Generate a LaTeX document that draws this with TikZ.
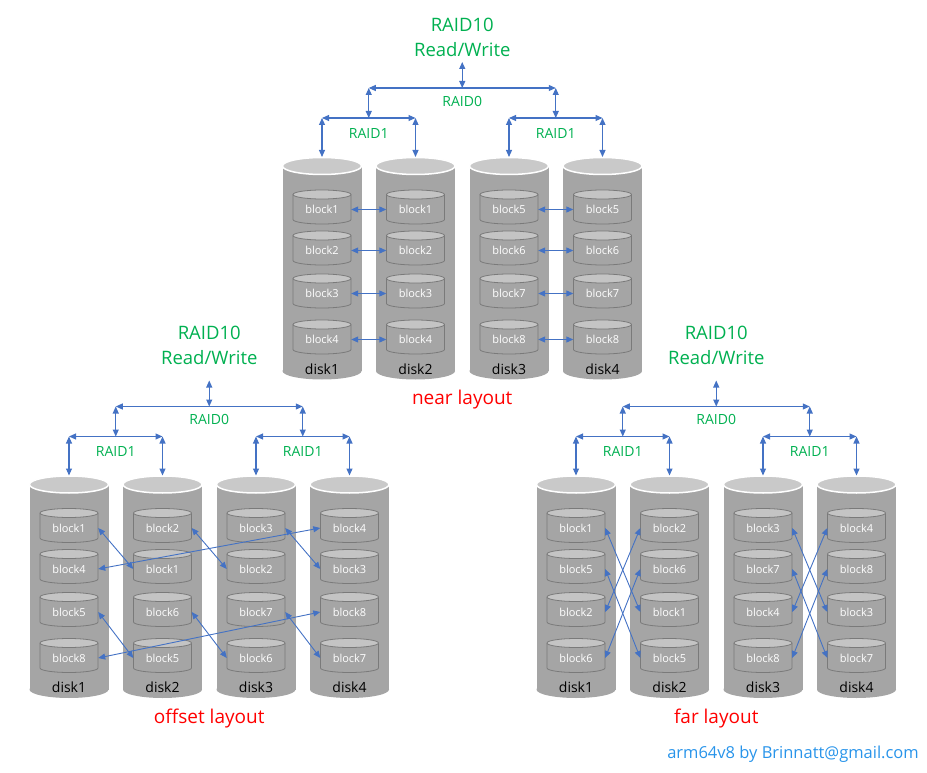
\documentclass[tikz,border=0pt]{standalone}
\usepackage{fontspec}
\setmainfont{Open Sans}
\usetikzlibrary{arrows.meta}

\definecolor{diskgray}{HTML}{A5A5A5}
\definecolor{disktopgray}{HTML}{C9C9C9}
\definecolor{blockedge}{HTML}{7A7A7A}
\definecolor{blocktopgray}{HTML}{C4C4C4}
\definecolor{linkblue}{HTML}{4472C4}
\definecolor{raidgreen}{HTML}{00B050}
\definecolor{layoutred}{HTML}{FF0000}
\definecolor{footblue}{HTML}{2894EA}

\tikzset{
  link/.style={draw=linkblue, line width=0.9pt, <->, >={Triangle[length=7pt,width=6pt]}},
  tree link/.style={link, line width=1.1pt},
  disk top/.style={fill=disktopgray, draw=white, line width=1.5pt},
  block edge/.style={draw=blockedge, line width=0.8pt},
  block text/.style={text=white, inner sep=0pt, minimum width=58pt, minimum height=25pt,
    font=\fontsize{11}{11}\selectfont},
  disk label/.style={text=black, inner sep=0pt, font=\fontsize{14}{14}\selectfont},
  raid label/.style={text=raidgreen, inner sep=0pt, font=\fontsize{14}{14}\selectfont},
  raid10 label/.style={text=raidgreen, inner sep=0pt, font=\fontsize{18.5}{18.5}\selectfont},
  layout label/.style={text=layoutred, inner sep=0pt, font=\fontsize{19}{19}\selectfont}
}

% one block: name, x, y (centre of the body), text
\newcommand{\blk}[4]{%
  \filldraw[block edge, fill=diskgray] (#2-29,#3-12.5) -- (#2-29,#3+12.5)
    arc[start angle=180, end angle=0, x radius=29, y radius=4.5] -- (#2+29,#3-12.5);
  \draw[block edge, fill=blocktopgray] (#2,#3-12.5) ellipse[x radius=29, y radius=4.5];
  \node[block text] (#1) at (#2,#3+2.5) {#4};
}

% one RAID10 group: prefix, shift x, shift y, title, disks with their blocks, header y
\newcommand{\raidgroup}[6]{%
  \begin{scope}[shift={(#2,#3)}]
    \foreach \d/\x/\a/\b/\c/\e in {#5} {
      \fill[diskgray] (\x-39.5,166) rectangle (\x+39.5,371);
      \fill[diskgray] (\x,371) ellipse[x radius=39.5, y radius=8.5];
      \draw[disk top] (\x,166) ellipse[x radius=39.5, y radius=8.5];
      \coordinate (#1-top\d) at (\x,157);
      \node[disk label] (#1-disk\d) at (\x,369) {disk\d};
      \foreach \r/\y/\n in {1/207/\a,2/248/\b,3/291/\c,4/337/\e}
        \blk{#1-\d-\r}{\x}{\y}{block\n};
    }
    % RAID0 / RAID1 tree
    \node[raid10 label] (#1-raid10) at (462.25,#6) {RAID10};
    \node[raid10 label] (#1-rw) at (462.25,#6+25) {Read/Write};
    \coordinate (#1-in) at (462.25,62);
    \coordinate (#1-root) at (462.25,88);
    \coordinate (#1-j1) at (368.75,88);
    \coordinate (#1-j2) at (555.75,88);
    \coordinate (#1-m1) at (368.75,118);
    \coordinate (#1-m2) at (555.75,118);
    \node[raid label] (#1-raid0) at (462.25,101) {RAID0};
    \node[raid label] (#1-raid1a) at (368.75,133) {RAID1};
    \node[raid label] (#1-raid1b) at (555.75,133) {RAID1};
    \draw[tree link] (#1-in) -- (#1-root);
    \draw[tree link] (#1-j1) -- (#1-j2);
    \draw[tree link] (#1-j1) -- (#1-m1);
    \draw[tree link] (#1-j2) -- (#1-m2);
    \draw[tree link] (#1-top1 |- #1-m1) -- (#1-top2 |- #1-m1);
    \draw[tree link] (#1-top3 |- #1-m2) -- (#1-top4 |- #1-m2);
    \foreach \d in {1,...,4}
      \draw[tree link] (#1-top\d |- #1-m1) -- (#1-top\d);
    \node[layout label] (#1-title) at (462.25,400) {#4};
  \end{scope}
}

\begin{document}
\begin{tikzpicture}[x=1pt, y=-1pt]
  \useasboundingbox (0,0) rectangle (927,773);

  \raidgroup{near}{0}{0}{near layout}
    {1/322/1/2/3/4, 2/415.5/1/2/3/4, 3/509/5/6/7/8, 4/602.5/5/6/7/8}{25}
  \raidgroup{off}{-253}{318.5}{offset layout}
    {1/322/1/4/5/8, 2/415.5/2/1/6/5, 3/509/3/2/7/6, 4/602.5/4/3/8/7}{14.5}
  \raidgroup{far}{254}{318.5}{far layout}
    {1/322/1/5/2/6, 2/415.5/2/6/1/5, 3/509/3/7/4/8, 4/602.5/4/8/3/7}{14.5}

  % near layout: mirrored rows
  \foreach \r in {1,...,4} {
    \draw[link] (near-1-\r.east) -- (near-2-\r.west);
    \draw[link] (near-3-\r.east) -- (near-4-\r.west);
  }
  % offset layout: copy one row down on the next disk
  \foreach \r/\s in {1/2,3/4} {
    \foreach \d/\e in {1/2,2/3,3/4}
      \draw[link] (off-\d-\r.east) -- (off-\e-\s.west);
    \draw[link] (off-4-\r.west) -- (off-1-\s.east);
  }
  % far layout: copy in the far half
  \foreach \a/\b in {1/2,3/4}
    \foreach \r/\s in {1/3,2/4,3/1,4/2}
      \draw[link] (far-\a-\r.east) -- (far-\b-\s.west);

  \node[text=footblue, inner sep=0pt, font=\fontsize{16.5}{16.5}\selectfont] (credit)
    at (793,754) {arm64v8 by Brinnatt@gmail.com};
\end{tikzpicture}
\end{document}
